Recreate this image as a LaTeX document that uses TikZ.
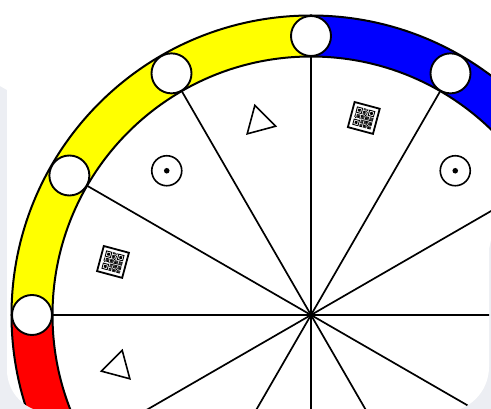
\documentclass[tikz,border=0pt]{standalone}
\usetikzlibrary{shapes.geometric}
\definecolor{bggray}{HTML}{ECEEF3}
\definecolor{ringyellow}{HTML}{FFFF00}
\definecolor{ringblue}{HTML}{0000FF}
\definecolor{ringred}{HTML}{FF0000}
\begin{document}
\begin{tikzpicture}[x=1pt,y=1pt,
  ringseg/.style={draw=black,line width=2pt,line join=round},
  spoke/.style={draw=black,line width=1.7pt},
  marker/.style={circle,draw=black,fill=white,line width=1.9pt,minimum size=40pt,inner sep=0pt},
  tri/.style={regular polygon,regular polygon sides=3,draw=black,line width=1.6pt,minimum size=34pt,inner sep=0pt},
  ringsym/.style={circle,draw=black,line width=1.6pt,minimum size=30pt,inner sep=0pt},
  qrcode/.pic={
    \draw[line width=1.8pt,fill=white] (-13,-13) rectangle (13,13);
    \foreach \i in {0,...,20}{
      \foreach \j in {0,...,20}{
        \pgfmathtruncatemacro\fz{or(and(\i<8,\j<8),or(and(\i<8,\j>12),and(\i>12,\j>12)))}
        \pgfmathtruncatemacro\bit{mod(\i*\i*7+\j*\j*3+\i*\j*5+\i+2*\j,5)<3}
        \ifnum\fz=0 \ifnum\bit=1
          \fill ({\i*0.9-9.45},{\j*0.9-9.45}) rectangle +(0.9,0.9);
        \fi\fi
      }
    }
    \foreach \fx/\fy in {0/14,14/14,0/0}{
      \fill[even odd rule] ({\fx*0.9-9.45},{\fy*0.9-9.45}) rectangle +(6.3,6.3)
        ({\fx*0.9-8.55},{\fy*0.9-8.55}) rectangle +(4.5,4.5);
      \fill ({\fx*0.9-7.65},{\fy*0.9-7.65}) rectangle +(2.7,2.7);
    }
  }
]
\useasboundingbox (0,0) rectangle (491,409);
\fill[bggray] (0,0) rectangle (491,409);
\fill[white] (0,409) -- (491,409) -- (491,169) -- (489,160) -- (489,42)
  arc[start angle=0,end angle=-90,radius=45] -- (49,-3)
  arc[start angle=270,end angle=180,radius=42] -- (7,319) -- (0,323) -- cycle;
\begin{scope}
\clip (0,409) -- (491,409) -- (491,169) -- (489,160) -- (489,42)
  arc[start angle=0,end angle=-90,radius=45] -- (49,-3)
  arc[start angle=270,end angle=180,radius=42] -- (7,319) -- (0,323) -- cycle;
\coordinate (c) at (311,94);
% ring segments
\foreach \a/\b/\col in {0/90/ringblue,90/180/ringyellow,180/270/ringred}{
  \filldraw[ringseg,fill=\col] ([shift={(\a:299.5)}]c)
    arc[start angle=\a,end angle=\b,radius=299.5]
    -- ([shift={(\b:258.5)}]c)
    arc[start angle=\b,end angle=\a,radius=258.5] -- cycle;
}
% spokes
\foreach \k in {0,...,11}{
  \coordinate (s\k) at ([shift={(\k*30:258.5)}]c);
  \draw[spoke] (c) -- (s\k);
}
\fill (c) circle (2.5);
% markers
\foreach \k in {0,...,11}{
  \node[marker] (m\k) at ([shift={(\k*30:279)}]c) {};
}
% symbols
\node[tri,rotate=15] (t1) at ([shift={(105:200)}]c) {};
\node[tri,rotate=105] (t2) at ([shift={(195:200)}]c) {};
\node[ringsym] (o1) at ([shift={(135:204)}]c) {};
\fill (o1.center) circle (2.8);
\node[ringsym] (o2) at ([shift={(45:204)}]c) {};
\fill (o2.center) circle (2.8);
\pic[rotate=-15] (qa) at ([shift={(165:205)}]c) {qrcode};
\pic[rotate=-15] (qb) at ([shift={(75:204)}]c) {qrcode};
\end{scope}
\end{tikzpicture}
\end{document}
